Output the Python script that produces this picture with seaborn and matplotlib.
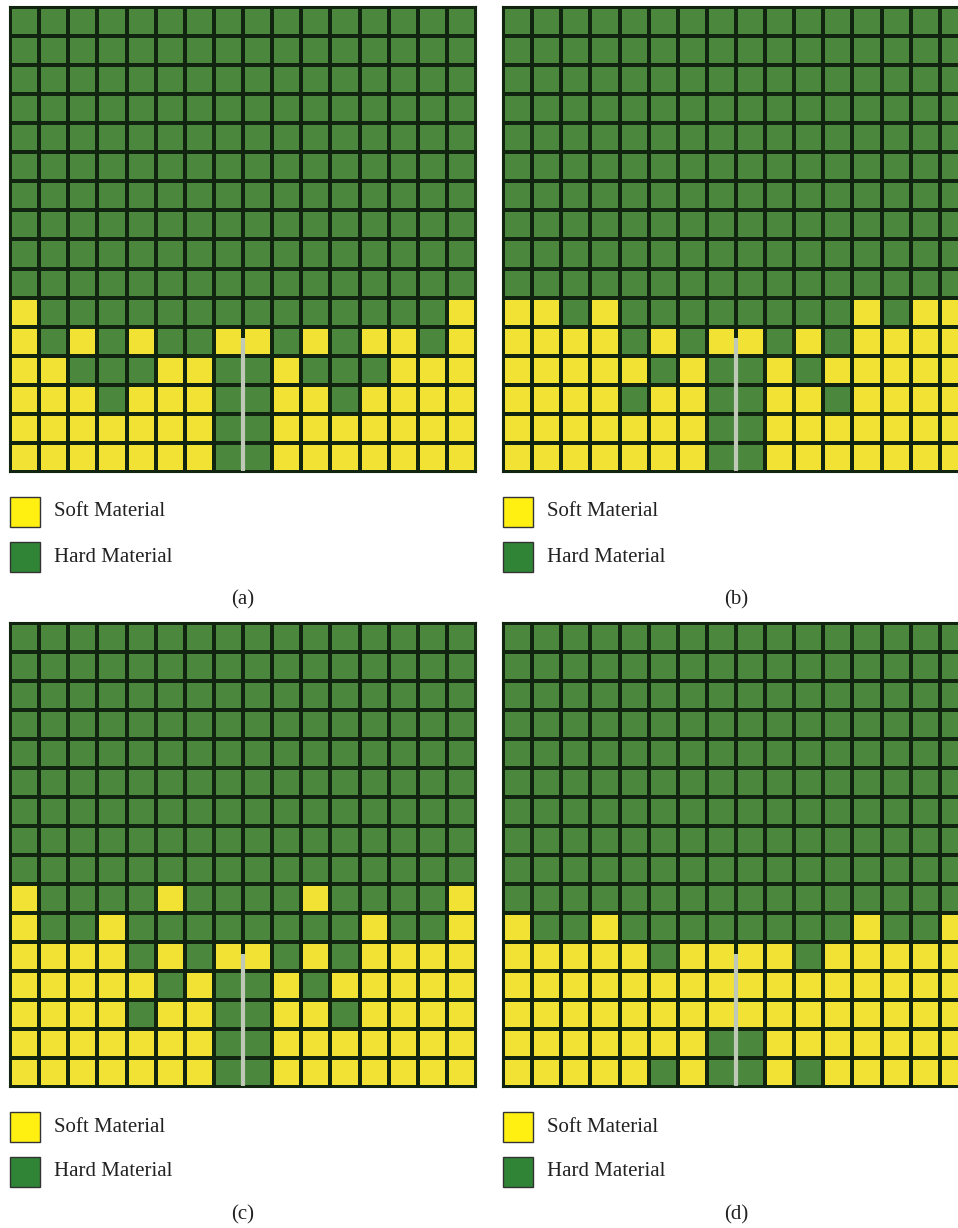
import numpy as np
import matplotlib
matplotlib.use("Agg")
import matplotlib.pyplot as plt
from matplotlib.colors import ListedColormap
from matplotlib.patches import Rectangle
import seaborn as sns

# Material layout of each 16 x 16 grid, top row first.
# H = hard material, S = soft material
panel_a = [
    "HHHHHHHHHHHHHHHH",
    "HHHHHHHHHHHHHHHH",
    "HHHHHHHHHHHHHHHH",
    "HHHHHHHHHHHHHHHH",
    "HHHHHHHHHHHHHHHH",
    "HHHHHHHHHHHHHHHH",
    "HHHHHHHHHHHHHHHH",
    "HHHHHHHHHHHHHHHH",
    "HHHHHHHHHHHHHHHH",
    "HHHHHHHHHHHHHHHH",
    "SHHHHHHHHHHHHHHS",
    "SHSHSHHSSHSHSSHS",
    "SSHHHSSHHSHHHSSS",
    "SSSHSSSHHSSHSSSS",
    "SSSSSSSHHSSSSSSS",
    "SSSSSSSHHSSSSSSS",
]
panel_b = [
    "HHHHHHHHHHHHHHHH",
    "HHHHHHHHHHHHHHHH",
    "HHHHHHHHHHHHHHHH",
    "HHHHHHHHHHHHHHHH",
    "HHHHHHHHHHHHHHHH",
    "HHHHHHHHHHHHHHHH",
    "HHHHHHHHHHHHHHHH",
    "HHHHHHHHHHHHHHHH",
    "HHHHHHHHHHHHHHHH",
    "HHHHHHHHHHHHHHHH",
    "SSHSHHHHHHHHSHSS",
    "SSSSHSHSSHSHSSSS",
    "SSSSSHSHHSHSSSSS",
    "SSSSHSSHHSSHSSSS",
    "SSSSSSSHHSSSSSSS",
    "SSSSSSSHHSSSSSSS",
]
panel_c = [
    "HHHHHHHHHHHHHHHH",
    "HHHHHHHHHHHHHHHH",
    "HHHHHHHHHHHHHHHH",
    "HHHHHHHHHHHHHHHH",
    "HHHHHHHHHHHHHHHH",
    "HHHHHHHHHHHHHHHH",
    "HHHHHHHHHHHHHHHH",
    "HHHHHHHHHHHHHHHH",
    "HHHHHHHHHHHHHHHH",
    "SHHHHSHHHHSHHHHS",
    "SHHSHHHHHHHHSHHS",
    "SSSSHSHSSHSHSSSS",
    "SSSSSHSHHSHSSSSS",
    "SSSSHSSHHSSHSSSS",
    "SSSSSSSHHSSSSSSS",
    "SSSSSSSHHSSSSSSS",
]
panel_d = [
    "HHHHHHHHHHHHHHHH",
    "HHHHHHHHHHHHHHHH",
    "HHHHHHHHHHHHHHHH",
    "HHHHHHHHHHHHHHHH",
    "HHHHHHHHHHHHHHHH",
    "HHHHHHHHHHHHHHHH",
    "HHHHHHHHHHHHHHHH",
    "HHHHHHHHHHHHHHHH",
    "HHHHHHHHHHHHHHHH",
    "HHHHHHHHHHHHHHHH",
    "SHHSHHHHHHHHSHHS",
    "SSSSSHSSSSHSSSSS",
    "SSSSSSSSSSSSSSSS",
    "SSSSSSSSSSSSSSSS",
    "SSSSSSSHHSSSSSSS",
    "SSSSSHSHHSHSSSSS",
]
panel_labels = ["(a)", "(b)", "(c)", "(d)"]
legend_labels = ["Soft Material", "Hard Material"]

# colours
HARD_CELL = "#4b883e"
SOFT_CELL = "#f1e234"
GRID_LINE = "#10240f"
CRACK = "#c0c8b8"
SOFT_KEY = "#fff012"
HARD_KEY = "#2f8535"

W, H = 958, 1228
fig = plt.figure(figsize=(W / 100, H / 100), dpi=100)
fig.patch.set_facecolor("white")


def fx(px):
    return px / W


def fy(py):
    return 1 - py / H


cmap = ListedColormap([HARD_CELL, SOFT_CELL])

# panel placement in pixels: (left, top, bottom)
boxes = [(10, 7, 472), (503, 7, 472), (10, 623, 1087), (503, 623, 1087)]
grid_w = 466
grids = [panel_a, panel_b, panel_c, panel_d]

for grid, (left, top, bottom), tag in zip(grids, boxes, panel_labels):
    data = np.array([[1 if ch == "S" else 0 for ch in row] for row in grid])
    ax = fig.add_axes([fx(left), fy(bottom), grid_w / W, (bottom - top) / H])
    sns.heatmap(data, ax=ax, cmap=cmap, vmin=0, vmax=1, cbar=False,
                linewidths=1.5, linecolor=GRID_LINE,
                xticklabels=False, yticklabels=False)
    for sp in ax.spines.values():
        sp.set_visible(True)
        sp.set_color(GRID_LINE)
        sp.set_linewidth(1.5)
    # pre-cut crack along the centre line from the bottom edge
    ax.plot([8, 8], [11.4, 16], color=CRACK, lw=3.0, solid_capstyle="butt")
    ax.set_xlim(0, 16)
    ax.set_ylim(16, 0)

    # legend keys
    key_y = [bottom + 40, bottom + 85]
    for label, color, yc in zip(legend_labels, [SOFT_KEY, HARD_KEY], key_y):
        fig.add_artist(Rectangle((fx(left), fy(yc + 15)), 30 / W, 30 / H,
                                 transform=fig.transFigure,
                                 facecolor=color, edgecolor="#333333", lw=1.0))
        fig.text(fx(left + 44), fy(yc), label, ha="left", va="center",
                 fontsize=15, family="Liberation Serif", color="#222222")
    fig.text(fx(left + 233), fy(bottom + 128), tag, ha="center", va="center",
             fontsize=15, family="Liberation Serif", color="#222222")

fig.savefig("out.png", dpi=100)
